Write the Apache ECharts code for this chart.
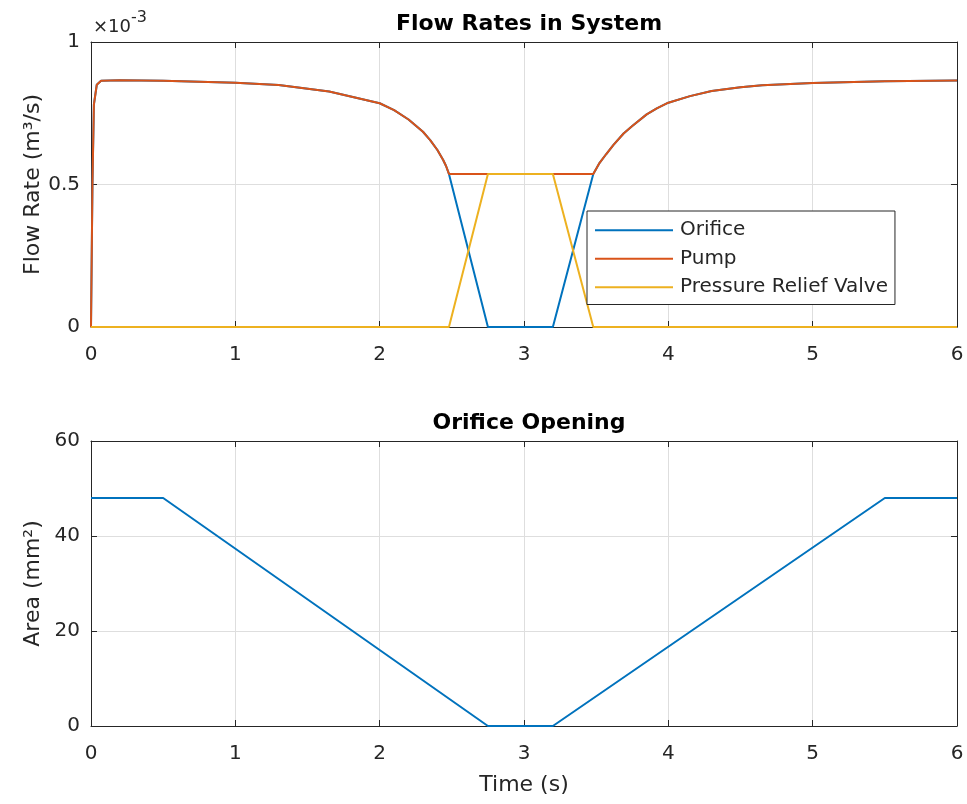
<!DOCTYPE html>
<html>
<head>
<meta charset="utf-8">
<script src="https://cdn.jsdelivr.net/npm/echarts@6/dist/echarts.min.js"></script>
<style>html,body{margin:0;padding:0;background:#fff}#c{width:967px;height:804px}</style>
</head>
<body>
<div id="c"></div>
<script>
// Flow rates (units of 1e-3 m^3/s) vs time (s)
const pumpT    = [0, 0.01, 0.02, 0.04, 0.07, 0.2, 0.5, 1.0, 1.3, 1.65, 2.0, 2.1, 2.2, 2.3, 2.35, 2.4, 2.44, 2.46, 2.48, 3.48, 3.52, 3.57, 3.62, 3.69, 3.75, 3.85, 3.92, 4.0, 4.15, 4.3, 4.5, 4.65, 5.0, 5.5, 6.0];
const pumpQ    = [0, 0.5, 0.78, 0.85, 0.864, 0.866, 0.864, 0.857, 0.849, 0.826, 0.785, 0.761, 0.728, 0.685, 0.656, 0.621, 0.586, 0.565, 0.537, 0.537, 0.573, 0.607, 0.639, 0.679, 0.705, 0.746, 0.767, 0.787, 0.81, 0.828, 0.841, 0.848, 0.856, 0.862, 0.865];
const orificeT = [0, 0.01, 0.02, 0.04, 0.07, 0.2, 0.5, 1.0, 1.3, 1.65, 2.0, 2.1, 2.2, 2.3, 2.35, 2.4, 2.44, 2.46, 2.48, 2.75, 3.2, 3.48, 3.52, 3.57, 3.62, 3.69, 3.75, 3.85, 3.92, 4.0, 4.15, 4.3, 4.5, 4.65, 5.0, 5.5, 6.0];
const orificeQ = [0, 0.5, 0.78, 0.85, 0.864, 0.866, 0.864, 0.857, 0.849, 0.826, 0.785, 0.761, 0.728, 0.685, 0.656, 0.621, 0.586, 0.565, 0.537, 0, 0, 0.537, 0.573, 0.607, 0.639, 0.679, 0.705, 0.746, 0.767, 0.787, 0.81, 0.828, 0.841, 0.848, 0.856, 0.862, 0.865];
const reliefT  = [0, 2.48, 2.75, 3.2, 3.48, 6.0];
const reliefQ  = [0, 0, 0.537, 0.537, 0, 0];
// Orifice opening area (mm^2)
const areaT    = [0, 0.5, 2.75, 3.2, 5.5, 6.0];
const areaA    = [48, 48, 0, 0, 48, 48];
const seriesNames = ['Orifice', 'Pump', 'Pressure Relief Valve'];

const zip = (a, b) => a.map((v, i) => [v, b[i]]);
const FONT = '"DejaVu Sans", Verdana, sans-serif';
const DARK = '#262626';
const colors = ['#0072BD', '#D95319', '#EDB120'];

const chart = echarts.init(document.getElementById('c'), null, {renderer: 'canvas'});

function xAx(grid, pos, main, name) {
  return {
    type: 'value', gridIndex: grid, position: pos, min: 0, max: 6, interval: 1,
    axisLine: {show: true, onZero: false, lineStyle: {color: DARK, width: 1}},
    axisTick: {show: true, inside: true, length: 6, lineStyle: {color: DARK}},
    axisLabel: {show: main, color: DARK, fontSize: 20, fontFamily: FONT, margin: 18},
    splitLine: {show: main, lineStyle: {color: '#dedede', width: 1}},
    name: name || '', nameLocation: 'middle', nameGap: 48, nameMoveOverlap: false,
    nameTextStyle: {color: DARK, fontSize: 22, fontFamily: FONT}
  };
}
function yAx(grid, pos, main, min, max, interval, name) {
  return {
    type: 'value', gridIndex: grid, position: pos, min: min, max: max, interval: interval,
    axisLine: {show: true, onZero: false, lineStyle: {color: DARK, width: 1}},
    axisTick: {show: true, inside: true, length: 6, lineStyle: {color: DARK}},
    axisLabel: {show: main, color: DARK, fontSize: 20, fontFamily: FONT, margin: 11},
    splitLine: {show: main, lineStyle: {color: '#dedede', width: 1}},
    name: name || '', nameLocation: 'middle', nameGap: 47, nameRotate: 90, nameMoveOverlap: false,
    nameTextStyle: {color: DARK, fontSize: 22, fontFamily: FONT}
  };
}

const lineS = (name, data, color, xi, yi) => ({
  name: name, type: 'line', data: data, xAxisIndex: xi, yAxisIndex: yi,
  symbol: 'none', showSymbol: false, smooth: false, animation: false,
  lineStyle: {color: color, width: 2}, itemStyle: {color: color}
});

chart.setOption({
  animation: false,
  backgroundColor: '#ffffff',
  title: [
    {text: 'Flow Rates in System', left: 524, top: 8, textAlign: 'center',
     textStyle: {fontSize: 22, fontWeight: 'bold', color: '#000', fontFamily: FONT}},
    {text: 'Orifice Opening', left: 524, top: 407, textAlign: 'center',
     textStyle: {fontSize: 22, fontWeight: 'bold', color: '#000', fontFamily: FONT}}
  ],
  grid: [
    {left: 91, top: 42, width: 866, height: 285},
    {left: 91, top: 441, width: 866, height: 285}
  ],
  xAxis: [xAx(0, 'bottom', true), xAx(0, 'top', false), xAx(1, 'bottom', true, 'Time (s)'), xAx(1, 'top', false)],
  yAxis: [
    yAx(0, 'left', true, 0, 1, 0.5, 'Flow Rate (m³/s)'), yAx(0, 'right', false, 0, 1, 0.5),
    yAx(1, 'left', true, 0, 60, 20, 'Area (mm²)'), yAx(1, 'right', false, 0, 60, 20)
  ],
  legend: {
    data: seriesNames.map(n => ({name: n, icon: 'rect'})),
    orient: 'vertical', left: 587, top: 211,
    backgroundColor: '#fff', borderColor: DARK, borderWidth: 1,
    padding: [8, 7, 6, 8], itemWidth: 78, itemHeight: 2, itemGap: 6,
    textStyle: {fontSize: 20, fontFamily: FONT, color: DARK, lineHeight: 22.5, padding: [0, 0, 0, 2]}
  },
  graphic: [
    {type: 'text', left: 93, top: 18, style: {text: '×10', font: '18px ' + FONT, fill: DARK}},
    {type: 'text', left: 131, top: 10, style: {text: '-3', font: '16px ' + FONT, fill: DARK}}
  ],
  series: [
    lineS(seriesNames[0], zip(orificeT, orificeQ), colors[0], 0, 0),
    lineS(seriesNames[1], zip(pumpT, pumpQ), colors[1], 0, 0),
    lineS(seriesNames[2], zip(reliefT, reliefQ), colors[2], 0, 0),
    lineS('Area', zip(areaT, areaA), colors[0], 2, 2)
  ]
});
</script>
</body>
</html>
